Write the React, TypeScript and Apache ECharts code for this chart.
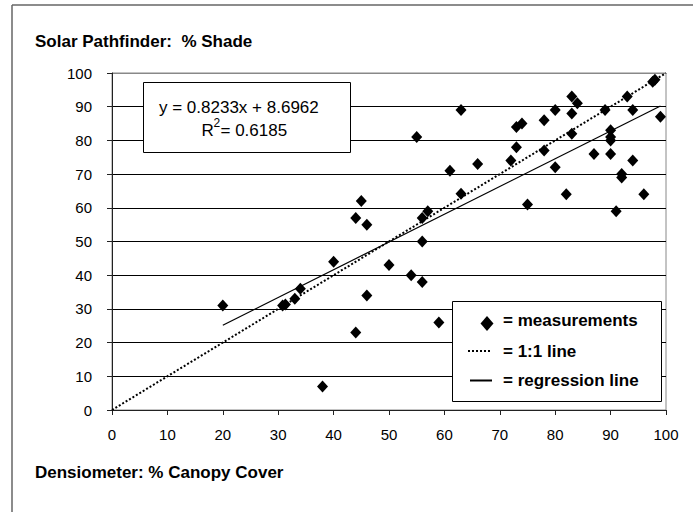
import React, { useEffect, useRef } from "react";
import * as echarts from "echarts";

// Densiometer (% canopy cover) readings
const xValues = [
  20, 30.8, 31.3, 33, 34, 38, 40, 44, 44, 45, 46, 46, 50, 54, 55, 56, 56, 56, 57, 59,
  61, 63, 63, 66, 72, 73, 73, 74, 75, 78, 78, 80, 80, 82, 83, 83, 83, 84, 87, 89,
  90, 90, 90, 90, 91, 92, 92, 93, 94, 94, 96, 97.6, 98, 99,
];
// Solar Pathfinder (% shade) readings
const yValues = [
  31, 31, 31.3, 33, 36, 7, 44, 57, 23, 62, 55, 34, 43, 40, 81, 57, 50, 38, 59, 26,
  71, 89, 64.2, 73, 74, 84, 78, 85, 61, 86, 77, 89, 72, 64, 93, 88, 82, 91, 76, 89,
  83, 81, 80, 76, 59, 70, 69, 93, 89, 74, 64, 97.4, 98, 87,
];

const identityLineX = [0, 100];
const regressionSlope = 0.8233;
const regressionIntercept = 8.6962;
const regressionR2 = 0.6185;
const regressionXRange = [20, 99];

const xTicks = { min: 0, max: 100, interval: 10 };
const yTicks = { min: 0, max: 100, interval: 10 };

const titleText = "Solar Pathfinder:  % Shade";
const xTitleText = "Densiometer: % Canopy Cover";
const legendLabels = ["= measurements", "= 1:1 line", "= regression line"];

const FONT = "'Liberation Sans', Arial, Helvetica, sans-serif";

export default function App() {
  const ref = useRef<HTMLDivElement>(null);

  useEffect(() => {
    document.body.style.margin = "0";
    if (!ref.current) return;
    const chart = echarts.init(ref.current, undefined, { renderer: "svg" });

    const points = xValues.map((x, i) => [x, yValues[i]]);
    const identity = identityLineX.map((x) => [x, x]);
    const regression = regressionXRange.map((x) => [
      x,
      regressionSlope * x + regressionIntercept,
    ]);

    const splitColors = Array.from({ length: 11 }, (_, i) => (i === 10 ? "#888" : "#000"));

    const eqText = `y = ${regressionSlope}x + ${regressionIntercept}`;

    const txt = (text: string, x: number, y: number, font: string, z = 21) => ({
      type: "text",
      x,
      y,
      style: {
        text,
        font,
        fill: "#000",
        align: "left",
        verticalAlign: "middle",
        textAlign: "left",
        textVerticalAlign: "middle",
      },
      z,
    });

    chart.setOption({
      animation: false,
      backgroundColor: "#fff",
      textStyle: { fontFamily: FONT },
      grid: {
        left: 112,
        top: 73,
        right: 32,
        bottom: 102,
        show: true,
        borderColor: "#888",
        borderWidth: 1,
        backgroundColor: "transparent",
      },
      xAxis: {
        type: "value",
        min: xTicks.min,
        max: xTicks.max,
        interval: xTicks.interval,
        axisLine: { show: true, onZero: false, lineStyle: { color: "#222", width: 1 } },
        axisTick: { show: true, inside: false, length: 5, lineStyle: { color: "#222" } },
        axisLabel: { color: "#000", fontSize: 15, fontFamily: FONT, margin: 17 },
        splitLine: { show: false },
      },
      yAxis: {
        type: "value",
        min: yTicks.min,
        max: yTicks.max,
        interval: yTicks.interval,
        axisLine: { show: true, onZero: false, lineStyle: { color: "#222", width: 1 } },
        axisTick: { show: true, inside: false, length: 5, lineStyle: { color: "#222" } },
        axisLabel: { color: "#000", fontSize: 15, fontFamily: FONT, margin: 20 },
        splitLine: { show: true, lineStyle: { color: splitColors, width: 1 } },
      },
      series: [
        {
          name: "1:1 line",
          type: "line",
          data: identity,
          showSymbol: false,
          symbol: "none",
          lineStyle: { color: "#000", width: 2, type: [2, 2] },
          z: 2,
        },
        {
          name: "regression line",
          type: "line",
          data: regression,
          showSymbol: false,
          symbol: "none",
          lineStyle: { color: "#000", width: 1.2, type: "solid" },
          z: 2,
        },
        {
          name: "measurements",
          type: "scatter",
          data: points,
          symbol: "diamond",
          symbolSize: [11, 12],
          itemStyle: { color: "#000", opacity: 1 },
          z: 3,
        },
      ],
      graphic: [
        {
          type: "line",
          shape: { x1: 12, y1: 5, x2: 693, y2: 5 },
          style: { stroke: "#666", lineWidth: 1.5 },
          z: 10,
        },
        {
          type: "line",
          shape: { x1: 12, y1: 5, x2: 12, y2: 520 },
          style: { stroke: "#666", lineWidth: 1.5 },
          z: 10,
        },
        txt(titleText, 35, 41, `bold 17px ${FONT}`, 10),
        txt(xTitleText, 35, 472, `bold 17px ${FONT}`, 10),
        {
          type: "rect",
          shape: { x: 143.5, y: 82.5, width: 207, height: 70 },
          style: { fill: "#fff", stroke: "#000", lineWidth: 1 },
          z: 20,
        },
        txt(eqText, 159, 107, `17px ${FONT}`),
        txt("R", 201.5, 130, `17px ${FONT}`),
        txt("2", 213.5, 123, `12px ${FONT}`),
        txt(`= ${regressionR2}`, 220.5, 130, `17px ${FONT}`),
        {
          type: "rect",
          shape: { x: 452.5, y: 301.5, width: 209, height: 100 },
          style: { fill: "#fff", stroke: "#000", lineWidth: 1 },
          z: 20,
        },
        {
          type: "polygon",
          shape: {
            points: [
              [487, 316],
              [493.5, 323.5],
              [487, 331],
              [480.5, 323.5],
            ],
          },
          style: { fill: "#000" },
          z: 21,
        },
        {
          type: "line",
          shape: { x1: 468, y1: 351, x2: 491, y2: 351 },
          style: { stroke: "#000", lineWidth: 2, lineDash: [2, 2] },
          z: 21,
        },
        {
          type: "line",
          shape: { x1: 470, y1: 380.5, x2: 492, y2: 380.5 },
          style: { stroke: "#000", lineWidth: 2 },
          z: 21,
        },
        ...legendLabels.map((t, i) => txt(t, 503, [320, 351, 380][i], `bold 17px ${FONT}`)),
      ],
    });

    return () => chart.dispose();
  }, []);

  return <div ref={ref} style={{ width: 698, height: 512 }} />;
}
